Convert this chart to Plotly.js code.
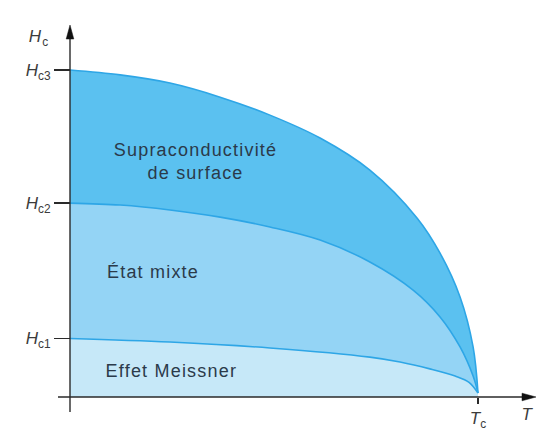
<!DOCTYPE html>
<html>
<head>
<meta charset="utf-8">
<script src="https://cdn.plot.ly/plotly-3.0.1.min.js"></script>
<style>
  html, body { margin: 0; padding: 0; background: #ffffff; }
  #chart { width: 536px; height: 431px; }
  g.annotation text.annotation-text { letter-spacing: 1.2px; }
</style>
</head>
<body>
<div id="chart"></div>
<script>
// ---- Data (T as fraction of Tc, H relative to Hc3(0)) ----
const tHc3 = [0, 0.123, 0.245, 0.368, 0.490, 0.613, 0.735, 0.851, 0.907, 0.956, 0.988, 1];
const hHc3 = [1, 0.985, 0.960, 0.917, 0.862, 0.792, 0.694, 0.547, 0.440, 0.306, 0.153, 0.012];

const tHc2 = [0, 0.123, 0.245, 0.368, 0.490, 0.613, 0.735, 0.841, 0.907, 0.956, 0.988, 1];
const hHc2 = [0.593, 0.587, 0.572, 0.550, 0.520, 0.480, 0.413, 0.327, 0.245, 0.153, 0.064, 0.012];

const tHc1 = [0, 0.245, 0.490, 0.735, 0.809, 0.882, 0.944, 0.978, 1];
const hHc1 = [0.179, 0.168, 0.150, 0.122, 0.107, 0.086, 0.064, 0.045, 0.012];

const yTickLabels = ['<i>H</i><sub>c1</sub>', '<i>H</i><sub>c2</sub>', '<i>H</i><sub>c3</sub>'];
const yTickValues = [hHc1[0], hHc2[0], hHc3[0]];
const xTickLabels = ['<i>T</i><sub>c</sub>'];
const xTickValues = [tHc3[tHc3.length - 1]];

const regionLabels = ['Supraconductivité<br>de surface', 'État mixte', 'Effet Meissner'];
const axisTitleY = '<i>H</i><sub>c</sub>';
const axisTitleX = '<i>T</i>';

// ---- Layout geometry (pixels) ----
const W = 536, H = 431;
const X0 = 70, XTC = 478, Y0 = 397, YTOP = 70;
const sx = XTC - X0, sy = Y0 - YTOP;
const toX = px => (px - X0) / sx;
const toY = py => (Y0 - py) / sy;

const lineCol = '#2ea6e6';
const axisCol = '#2a2a2a';
const txtCol = '#2b3a4a';
const labCol = '#3c3c3c';

function curve(t, h, fillcolor) {
  return {
    type: 'scatter', mode: 'lines', x: t, y: h,
    fill: 'tozeroy', fillcolor: fillcolor,
    line: { color: lineCol, width: 1.6, shape: 'spline', smoothing: 1 },
    hoverinfo: 'skip'
  };
}

const data = [
  curve(tHc3, hHc3, '#5bc1f0'),
  curve(tHc2, hHc2, '#94d4f5'),
  curve(tHc1, hHc1, '#c6e8f8')
];

const labelFont = { family: 'Liberation Sans, Arial, sans-serif', size: 18, color: txtCol };
const axFont = { family: 'Liberation Sans, Arial, sans-serif', size: 17, color: labCol };

const layout = {
  width: W, height: H,
  margin: { l: 0, r: 0, t: 0, b: 0, pad: 0 },
  paper_bgcolor: '#ffffff', plot_bgcolor: '#ffffff',
  showlegend: false,
  xaxis: {
    range: [toX(0), toX(W)], fixedrange: true,
    showgrid: false, zeroline: false, showline: false,
    anchor: 'free', position: (H - Y0) / H,
    tickmode: 'array', tickvals: xTickValues, ticktext: xTickLabels,
    ticks: 'outside', ticklen: 6, tickwidth: 1.3, tickcolor: axisCol,
    tickfont: axFont
  },
  yaxis: {
    range: [toY(H), toY(0)], fixedrange: true,
    showgrid: false, zeroline: false, showline: false,
    anchor: 'free', position: X0 / W, side: 'left',
    tickmode: 'array', tickvals: yTickValues, ticktext: yTickLabels,
    ticks: 'outside', ticklen: 16, tickwidth: 1.3, tickcolor: axisCol,
    tickfont: axFont
  },
  shapes: [
    { type: 'line', xref: 'x', yref: 'y', x0: 0, x1: 0, y0: toY(412), y1: toY(36),
      line: { color: axisCol, width: 1.4 } },
    { type: 'line', xref: 'x', yref: 'y', x0: toX(58), x1: toX(524), y0: 0, y1: 0,
      line: { color: axisCol, width: 1.4 } },
    { type: 'path', xref: 'x', yref: 'y',
      path: `M ${toX(X0)},${toY(25)} L ${toX(X0 - 3.8)},${toY(39)} L ${toX(X0 + 3.8)},${toY(39)} Z`,
      fillcolor: '#111', line: { color: '#111', width: 0.5 } },
    { type: 'path', xref: 'x', yref: 'y',
      path: `M ${toX(536)},${toY(Y0)} L ${toX(522)},${toY(Y0 - 3.8)} L ${toX(522)},${toY(Y0 + 3.8)} Z`,
      fillcolor: '#111', line: { color: '#111', width: 0.5 } }
  ],
  annotations: [
    { text: regionLabels[0], x: toX(195), y: toY(161), xref: 'x', yref: 'y',
      showarrow: false, font: labelFont, align: 'center', xanchor: 'center', yanchor: 'middle' },
    { text: regionLabels[1], x: toX(111), y: toY(272), xref: 'x', yref: 'y',
      showarrow: false, font: labelFont, xanchor: 'left', yanchor: 'middle' },
    { text: regionLabels[2], x: toX(112), y: toY(371), xref: 'x', yref: 'y',
      showarrow: false, font: labelFont, xanchor: 'left', yanchor: 'middle' },
    { text: axisTitleY, x: toX(50), y: toY(38), xref: 'x', yref: 'y',
      showarrow: false, font: axFont, xanchor: 'right', yanchor: 'middle' },
    { text: axisTitleX, x: toX(528), y: toY(414), xref: 'x', yref: 'y',
      showarrow: false, font: axFont, xanchor: 'center', yanchor: 'middle' }
  ]
};

Plotly.newPlot('chart', data, layout, { staticPlot: true, displayModeBar: false });
</script>
</body>
</html>
